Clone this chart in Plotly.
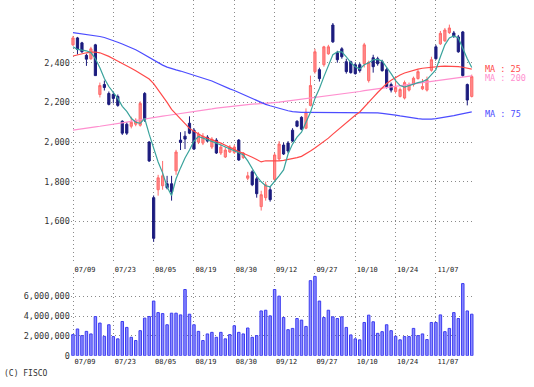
import plotly.graph_objects as go

# ---------------- data ----------------
dates = [
    "07/09","07/10","07/11","07/12","07/16","07/17","07/18","07/19","07/22","07/23",
    "07/24","07/25","07/26","07/29","07/30","07/31","08/01","08/02","08/05","08/06",
    "08/07","08/08","08/09","08/13","08/14","08/15","08/16","08/19","08/20","08/21",
    "08/22","08/23","08/26","08/27","08/28","08/29","08/30","09/02","09/03","09/04",
    "09/05","09/06","09/09","09/10","09/11","09/12","09/13","09/17","09/18","09/19",
    "09/20","09/24","09/25","09/26","09/27","09/30","10/01","10/02","10/03","10/04",
    "10/07","10/08","10/09","10/10","10/11","10/15","10/16","10/17","10/18","10/21",
    "10/22","10/23","10/24","10/25","10/28","10/29","10/30","10/31","11/01","11/05",
    "11/06","11/07","11/08","11/11","11/12","11/13","11/14","11/15","11/18","11/19",
]
tick_dates = ["07/09","07/23","08/05","08/19","08/30","09/12","09/27","10/10","10/24","11/07"]

open_ = [2490,2525,2500,2437,2420,2490,2240,2290,2245,2240,
         2230,2105,2090,2080,2090,2085,2245,2000,1720,1760,
         1780,1790,1790,1855,2010,2030,2095,2060,2000,1995,
         2025,1975,2010,1945,1925,1950,1948,2010,1922,1818,
         1850,1815,1675,1720,1760,1812,1915,1985,1995,2060,
         2105,2125,2070,2185,2355,2365,2390,2445,2590,2450,
         2470,2405,2405,2390,2390,2395,2310,2425,2420,2405,
         2365,2290,2255,2230,2222,2262,2290,2320,2268,2262,
         2362,2480,2495,2510,2552,2550,2530,2555,2290,2230]
high = [2535,2530,2505,2445,2480,2495,2300,2310,2255,2255,
        2240,2110,2100,2128,2120,2205,2252,2005,1731,1835,
        1905,1830,1830,1961,2050,2055,2130,2070,2050,2045,
        2035,2025,2020,1990,1975,1985,1985,2015,1950,1850,
        1858,1825,1755,1800,1775,1945,2005,1998,2005,2070,
        2110,2130,2170,2335,2470,2375,2485,2490,2600,2460,
        2478,2420,2410,2400,2400,2500,2410,2440,2430,2415,
        2375,2300,2320,2275,2310,2300,2330,2365,2318,2330,
        2430,2490,2560,2575,2592,2560,2540,2560,2295,2340]
low = [2485,2442,2450,2384,2415,2334,2225,2260,2185,2195,
       2178,2036,2036,2069,2080,2078,2102,1900,1497,1730,
       1760,1762,1705,1835,1960,1965,2040,1960,1990,1985,
       2000,1965,1940,1935,1920,1945,1940,1905,1915,1808,
       1778,1720,1655,1705,1700,1800,1905,1935,1945,2000,
       2075,2060,2065,2180,2345,2305,2380,2440,2500,2400,
       2420,2345,2345,2340,2350,2376,2300,2350,2385,2355,
       2270,2250,2245,2225,2215,2255,2280,2315,2262,2255,
       2355,2415,2490,2505,2545,2525,2450,2330,2185,2225]
close = [2525,2467,2455,2418,2470,2335,2285,2275,2190,2220,
         2185,2045,2045,2100,2110,2195,2115,1905,1515,1820,
         1830,1770,1750,1950,1998,2015,2045,1965,2040,2030,
         2005,2015,1945,1975,1960,1975,1975,1910,1945,1830,
         1785,1740,1735,1785,1710,1935,1990,1940,1955,2005,
         2080,2065,2150,2285,2455,2320,2480,2480,2505,2415,
         2430,2355,2350,2345,2360,2490,2400,2380,2395,2360,
         2280,2262,2275,2265,2300,2290,2322,2355,2280,2315,
         2415,2420,2548,2565,2575,2535,2455,2335,2212,2330]

ma5 = [2480,2467,2463,2460,2451,2420,2375,2320,2280,2250,
       2220,2180,2155,2120,2100,2094,2119,2040,1965,1900,
       1845,1775,1730,1815,1870,1920,1960,2005,2028,2020,
       2015,2005,1995,1985,1975,1965,1958,1945,1936,1905,
       1865,1829,1800,1780,1775,1800,1830,1860,1940,1990,
       2025,2050,2100,2150,2220,2270,2330,2390,2440,2455,
       2455,2430,2400,2380,2368,2390,2400,2415,2417,2409,
       2380,2345,2310,2285,2277,2285,2293,2300,2305,2315,
       2340,2365,2430,2490,2525,2535,2525,2470,2420,2376]
ma25 = [2434,2440,2445,2450,2453,2454,2450,2442,2432,2420,
        2409,2397,2385,2372,2359,2345,2332,2318,2295,2265,
        2235,2200,2165,2140,2115,2092,2069,2055,2040,2028,
        2020,2012,2004,1995,1984,1972,1961,1952,1944,1936,
        1924,1912,1900,1906,1906,1903,1905,1908,1912,1917,
        1922,1928,1940,1955,1970,1986,2002,2020,2040,2060,
        2077,2097,2116,2135,2152,2175,2200,2225,2250,2275,
        2295,2312,2326,2338,2348,2355,2362,2368,2372,2375,
        2378,2380,2382,2383,2383,2382,2380,2377,2373,2368]
ma75 = [2552,2549,2546,2543,2540,2536,2532,2527,2520,2512,
        2503,2494,2485,2475,2465,2453,2440,2425,2410,2398,
        2388,2378,2370,2364,2358,2351,2345,2339,2332,2325,
        2317,2308,2298,2287,2277,2268,2260,2250,2240,2229,
        2218,2208,2198,2190,2183,2176,2170,2164,2158,2154,
        2151,2150,2150,2150,2150,2150,2150,2150,2150,2150,
        2150,2150,2150,2150,2150,2150,2149,2148,2147,2145,
        2143,2140,2136,2132,2128,2124,2121,2118,2116,2115,
        2116,2118,2121,2125,2129,2133,2138,2143,2148,2152]
ma200 = [2060,2064,2067,2070,2074,2077,2080,2083,2087,2090,
         2093,2097,2101,2105,2109,2114,2118,2122,2125,2128,
         2131,2134,2137,2140,2143,2147,2150,2153,2157,2160,
         2164,2167,2171,2174,2177,2180,2183,2185,2187,2189,
         2191,2192,2194,2196,2197,2199,2201,2204,2206,2209,
         2211,2214,2216,2219,2222,2225,2228,2231,2235,2238,
         2242,2245,2248,2252,2255,2259,2262,2266,2270,2273,
         2276,2279,2282,2285,2288,2290,2293,2296,2298,2301,
         2305,2308,2311,2315,2318,2321,2325,2328,2331,2334]

volume = [2.13,2.70,2.03,2.46,2.20,3.96,3.30,1.96,3.13,1.93,
          1.70,3.46,2.86,1.86,1.53,2.53,3.80,3.96,5.53,4.36,
          4.26,3.13,4.30,4.30,4.13,6.70,4.20,3.13,2.46,1.53,
          2.20,2.36,1.86,2.36,1.70,2.13,3.03,2.36,2.20,2.80,
          1.86,2.03,4.53,4.60,4.03,6.70,6.03,3.86,2.63,2.76,
          3.76,3.60,2.96,7.60,8.03,5.53,3.86,4.60,3.93,3.76,
          3.93,2.86,2.10,1.70,1.60,3.36,4.10,3.43,2.26,2.43,
          3.13,2.53,1.96,1.60,1.93,1.93,2.76,2.03,2.20,1.63,
          3.36,3.36,4.13,2.43,2.76,4.36,3.76,7.30,4.53,4.20]
volume = [v * 1_000_000 for v in volume]

price_ticks = [1600, 1800, 2000, 2200, 2400]
volume_ticks = [0, 2000000, 4000000, 6000000]

ma_labels = ["MA : 25", "MA : 200", "MA : 75"]
ma_label_pos = [2368, 2323, 2144]

# ---------------- styling ----------------
W, H = 534, 387
FONT = "DejaVu Sans Mono"
GRID = "#8a8a8a"
RED_LINE = "#ff4a4a"
BLUE_LINE = "#4c4cff"
PINK_LINE = "#ff8fcf"
TEAL_LINE = "#3aa39c"

fig = go.Figure()

fig.add_trace(go.Scatter(x=dates, y=ma200, mode="lines",
                         line=dict(color=PINK_LINE, width=1.2), hoverinfo="skip"))
fig.add_trace(go.Scatter(x=dates, y=ma75, mode="lines",
                         line=dict(color=BLUE_LINE, width=1.2), hoverinfo="skip"))
fig.add_trace(go.Scatter(x=dates, y=ma25, mode="lines",
                         line=dict(color=RED_LINE, width=1.2), hoverinfo="skip"))
fig.add_trace(go.Candlestick(
    x=dates, open=open_, high=high, low=low, close=close,
    increasing=dict(line=dict(color="#ff6a6a", width=1), fillcolor="#ff8c8c"),
    decreasing=dict(line=dict(color="#1c1c7e", width=1), fillcolor="#1c1c7e"),
    whiskerwidth=0,
))
fig.add_trace(go.Scatter(x=dates, y=ma5, mode="lines",
                         line=dict(color=TEAL_LINE, width=1.2), hoverinfo="skip"))

fig.add_trace(go.Bar(x=dates, y=volume, xaxis="x2", yaxis="y2", width=0.55,
                     marker=dict(color="#8c8cff", line=dict(color="#3c3cf0", width=1))))

xdom = [70.76 / W, 474.0 / W]
common_x = dict(
    type="category", categoryorder="array", categoryarray=dates,
    range=[-0.5, 89.5], domain=xdom,
    tickmode="array", tickvals=tick_dates, ticktext=tick_dates,
    showgrid=True, gridcolor=GRID, griddash="1px,3px", gridwidth=1,
    showline=False, zeroline=False, ticks="", ticklen=0,
    tickfont=dict(family=FONT, size=7, color="#222"),
    ticklabelshift=12, fixedrange=True,
)

fig.update_layout(
    width=W, height=H,
    margin=dict(l=0, r=0, t=0, b=0),
    paper_bgcolor="white", plot_bgcolor="white",
    showlegend=False,
    xaxis=dict(**common_x, anchor="y", rangeslider=dict(visible=False)),
    xaxis2=dict(**common_x, anchor="y2"),
    yaxis=dict(domain=[(H - 267) / H, 1.0], range=[1388, 2716],
               tickmode="array", tickvals=price_ticks, tickformat=",d",
               showgrid=True, gridcolor=GRID, griddash="1px,3px", gridwidth=1,
               zeroline=False, showline=False, ticks="", ticklen=0,
               tickfont=dict(family=FONT, size=8.5, color="#333"), fixedrange=True),
    yaxis2=dict(domain=[(H - 360.3) / H, (H - 277) / H], range=[0, 8330000],
                tickmode="array", tickvals=volume_ticks, tickformat=",d",
                showgrid=True, gridcolor=GRID, griddash="1px,3px", gridwidth=1,
                zeroline=False, showline=False, ticks="", ticklen=0,
                tickfont=dict(family=FONT, size=8.5, color="#333"), fixedrange=True),
    bargap=0.3,
)

label_colors = [RED_LINE, PINK_LINE, BLUE_LINE]
for txt, yv, col in zip(ma_labels, ma_label_pos, label_colors):
    fig.add_annotation(x=483 / W, xref="paper", y=yv, yref="y", text=txt,
                       showarrow=False, xanchor="left", yanchor="middle",
                       font=dict(family=FONT, size=8.5, color=col))

fig.add_annotation(x=2 / W, xref="paper", y=(H - 378) / H, yref="paper",
                   text="(C) FISCO", showarrow=False, xanchor="left", yanchor="middle",
                   font=dict(family=FONT, size=8, color="#333"))

fig.write_html(
    "out.html",
    config={"displayModeBar": False},
    post_script="document.body.style.margin='0px';document.body.style.overflow='hidden';",
)
